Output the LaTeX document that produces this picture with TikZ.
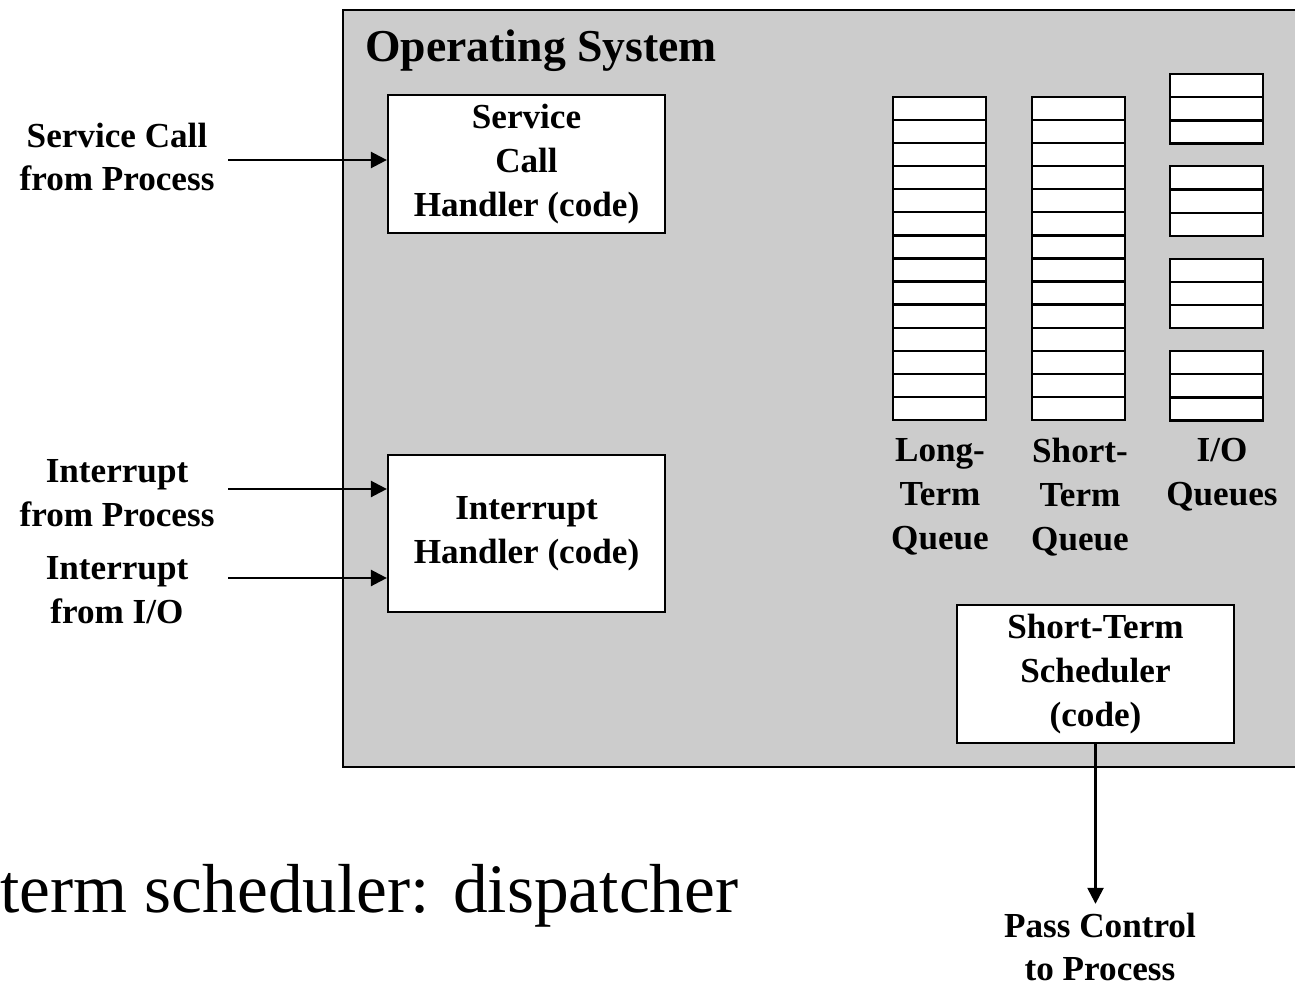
\documentclass[tikz,border=0pt]{standalone}
\usepackage{fontspec}
\setmainfont{Liberation Serif}
\usetikzlibrary{arrows.meta}
\definecolor{osgray}{RGB}{204,204,204}
\tikzset{
  lbl/.style={font=\fontsize{20}{25}\selectfont\bfseries, align=center, inner sep=0pt},
  codebox/.style={draw, line width=1.3pt, fill=white, minimum width=5.54cm,
    font=\fontsize{20}{25}\selectfont\bfseries, align=center, inner sep=0pt},
  arr/.style={line width=1.4pt, -{Triangle[length=0.32cm,width=0.32cm]}},
  slot/.style={draw, line width=1.3pt, fill=white}
}
\begin{document}
\begin{tikzpicture}[x=0.02cm, y=-0.02cm]
\useasboundingbox (0,0) rectangle (1295,990);
% operating system region (runs off the right edge)
\begin{scope}
\clip (0,0) rectangle (1295,990);
\draw[line width=1.3pt, fill=osgray] (343,10) rectangle (1310,767);
\end{scope}
\node[anchor=base west, inner sep=0pt, font=\fontsize{26}{31}\selectfont\bfseries] (os) at (365,62) {Operating System};

% handlers
\node[codebox, minimum height=2.76cm] (sch) at (526.5,164) {Service\\Call\\Handler (code)};
\node[codebox, minimum height=3.14cm] (ih) at (526.5,533.5) {Interrupt\\Handler (code)};
\node[codebox, minimum height=2.76cm] (sts) at (1095.5,674) {Short-Term\\Scheduler\\(code)};

% incoming events
\node[lbl] (svc) at (117,157) {Service Call\\from Process};
\node[lbl] (intp) at (117,493) {Interrupt\\from Process};
\node[lbl] (intio) at (117,590) {Interrupt\\from I/O};
\coordinate (in1) at (228,160);
\coordinate (in2) at (228,489);
\coordinate (in3) at (228,578);
\draw[arr] (in1) -- (in1 -| sch.west);
\draw[arr] (in2) -- (in2 -| ih.west);
\draw[arr] (in3) -- (in3 -| ih.west);

% queues
\foreach \i in {0,...,13} {
  \draw[slot] (893,{97+\i*23.07}) rectangle ++(93,23.07);
  \draw[slot] (1032,{97+\i*23.07}) rectangle ++(93,23.07);
}
\foreach \g/\t in {0/74, 1/166.3, 2/258.7, 3/351} {
  \foreach \j in {0,1,2} {
    \draw[slot] (1170,{\t+\j*23.2}) rectangle ++(93,23.2);
  }
}
\node[lbl] (ltq) at (940,497) {Long-\\Term\\Queue};
\node[lbl] (stq) at (1080,497) {Short-\\Term\\Queue};
\node[lbl] (ioq) at (1222,475) {I/O\\Queues};

% dispatch
\node[lbl, inner sep=0.17cm] (pass) at (1100,947) {Pass Control\\to Process};
\draw[arr] (sts.south) -- (sts.south |- pass.north);

\node[anchor=base west, inner sep=0pt, font=\fontsize{39.5}{47}\selectfont] (cap) at (0,912) {term scheduler: dispatcher};
\end{tikzpicture}
\end{document}
